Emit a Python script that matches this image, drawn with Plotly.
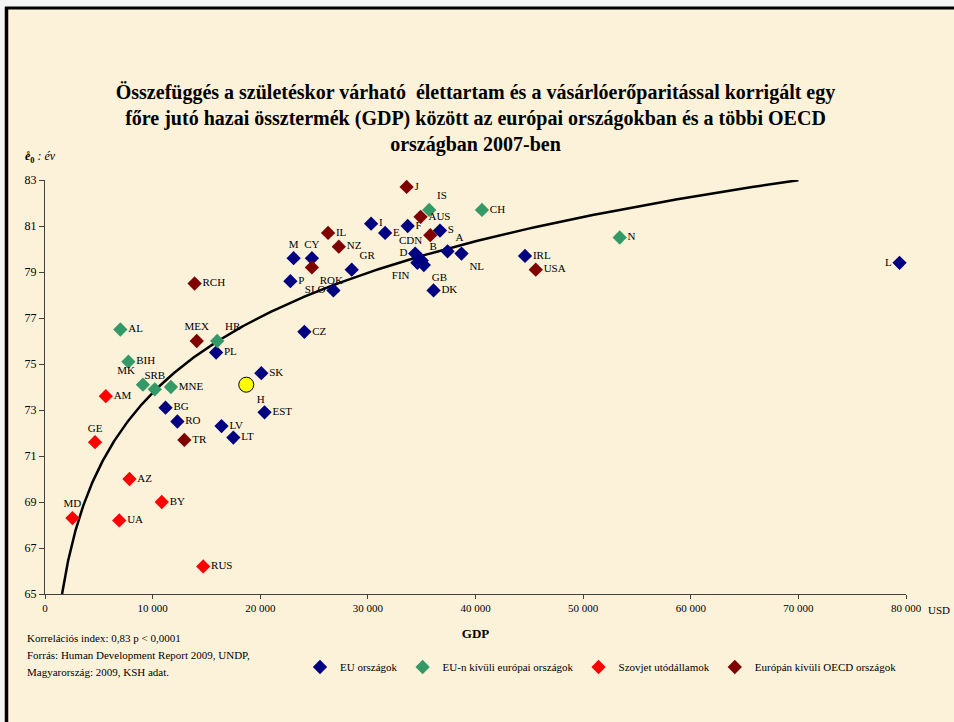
import numpy as np
import plotly.graph_objects as go

# ---------------- data ----------------
eu_names = ["L", "IRL", "NL", "A", "S", "F", "I", "E", "D", "B", "FIN", "GB", "DK",
            "GR", "CY", "M", "P", "SLO", "CZ", "PL", "SK", "EST", "BG", "RO", "LV", "LT"]
eu_gdp = [79400, 44600, 38700, 37400, 36700, 33700, 30300, 31600, 34400, 35000, 34600, 35200, 36100,
          28500, 24800, 23100, 22800, 26800, 24100, 15900, 20100, 20400, 11200, 12300, 16400, 17500]
eu_life = [79.4, 79.7, 79.8, 79.9, 80.8, 81.0, 81.1, 80.7, 79.8, 79.5, 79.4, 79.3, 78.2,
           79.1, 79.6, 79.6, 78.6, 78.2, 76.4, 75.5, 74.6, 72.9, 73.1, 72.5, 72.3, 71.8]

hu_name = ["H"]
hu_gdp = [18700]
hu_life = [74.1]

noneu_names = ["IS", "CH", "N", "AL", "HR", "BIH", "MK", "SRB", "MNE"]
noneu_gdp = [35700, 40600, 53400, 7000, 16000, 7750, 9100, 10200, 11700]
noneu_life = [81.7, 81.7, 80.5, 76.5, 76.0, 75.1, 74.1, 73.9, 74.0]

sov_names = ["AM", "GE", "AZ", "BY", "UA", "MD", "RUS"]
sov_gdp = [5650, 4650, 7850, 10850, 6900, 2550, 14700]
sov_life = [73.6, 71.6, 70.0, 69.0, 68.2, 68.3, 66.2]

oecd_names = ["J", "AUS", "CDN", "IL", "NZ", "ROK", "USA", "RCH", "MEX", "TR"]
oecd_gdp = [33600, 34900, 35800, 26300, 27300, 24800, 45600, 13900, 14100, 12950]
oecd_life = [82.7, 81.4, 80.6, 80.7, 80.1, 79.2, 79.1, 78.5, 76.0, 71.7]

# logarithmic trend line: y = a + b * ln(GDP)
trend_a = 30.0
trend_b = 4.75
trend_gdp_max = 70000

x_tickvals = [0, 10000, 20000, 30000, 40000, 50000, 60000, 70000, 80000]
x_ticktext = ["0", "10 000", "20 000", "30 000", "40 000", "50 000", "60 000", "70 000", "80 000"]
y_tickvals = [65, 67, 69, 71, 73, 75, 77, 79, 81, 83]

# ---------------- styles ----------------
label_pos = {
    "L": "middle left", "NL": "bottom right", "A": "top right", "D": "middle left",
    "B": "top right", "FIN": "bottom left", "GB": "bottom right", "GR": "top right",
    "CY": "top center", "M": "top center", "SLO": "middle left", "H": "bottom right",
    "IS": "top right", "HR": "top right", "MK": "top left", "SRB": "top center",
    "GE": "top center", "MD": "top center", "CDN": "middle left", "ROK": "bottom right",
    "MEX": "top center",
}
# labels drawn as separate annotations with a small pixel offset (xshift, yshift, xanchor)
label_shift = {"CDN": (-6, -5, "right")}

def positions(names):
    return [label_pos.get(n, "middle right") for n in names]

def trace_texts(names):
    return ["" if n in label_shift else n for n in names]

FONT = "Liberation Serif"
BG = "#FCF2DA"
LABEL_SIZE = 11

fig = go.Figure()

# trend line
ymin, ymax = 65, 83
x_start = np.exp((ymin - trend_a) / trend_b)
tx = np.geomspace(x_start, trend_gdp_max, 300)
ty = trend_a + trend_b * np.log(tx)
fig.add_trace(go.Scatter(x=tx, y=ty, mode="lines", line=dict(color="black", width=2.5),
                         showlegend=False, hoverinfo="skip"))

groups = [
    ("EU országok", eu_names, eu_gdp, eu_life, "#000080"),
    ("EU-n kívüli európai országok", noneu_names, noneu_gdp, noneu_life, "#339966"),
    ("Szovjet utódállamok", sov_names, sov_gdp, sov_life, "#FF0000"),
    ("Európán kívüli OECD országok", oecd_names, oecd_gdp, oecd_life, "#800000"),
]
for name, names, gx, gy, col in groups:
    fig.add_trace(go.Scatter(
        x=gx, y=gy, mode="markers+text", name=name, text=trace_texts(names),
        textposition=positions(names),
        textfont=dict(family=FONT, size=LABEL_SIZE, color="black"),
        marker=dict(symbol="diamond", size=11, color=col, line=dict(width=0)),
        cliponaxis=False, hovertext=names, hoverinfo="text+x+y",
    ))
    for n, xv, yv in zip(names, gx, gy):
        if n in label_shift:
            dx, dy, anc = label_shift[n]
            fig.add_annotation(x=xv, y=yv, xref="x", yref="y", text=n, showarrow=False,
                               xanchor=anc, yanchor="middle", xshift=dx, yshift=dy,
                               font=dict(family=FONT, size=LABEL_SIZE, color="black"))

fig.add_trace(go.Scatter(
    x=hu_gdp, y=hu_life, mode="markers+text", text=hu_name, textposition=positions(hu_name),
    textfont=dict(family=FONT, size=LABEL_SIZE, color="black"),
    marker=dict(symbol="circle", size=15, color="#FFFF00", line=dict(color="black", width=1)),
    showlegend=False, cliponaxis=False,
))

# plot area geometry (pixels)
L, R, T, B = 45, 906, 180, 594
W, H = 954, 722
pw, ph = R - L, B - T

def px_x(p):
    return (p - L) / pw

def px_y(p):
    return (B - p) / ph

fig.update_layout(
    width=W, height=H,
    margin=dict(l=L, r=W - R, t=T, b=H - B),
    paper_bgcolor=BG, plot_bgcolor="rgba(0,0,0,0)",
    font=dict(family=FONT, size=12, color="black"),
    title=dict(
        text="Összefüggés a születéskor várható  élettartam és a vásárlóerőparitással korrigált egy<br>"
             "főre jutó hazai össztermék (GDP) között az európai országokban és a többi OECD<br>"
             "országban 2007-ben",
        x=0.5, xanchor="center", xref="paper", y=1 - 99 / H, yanchor="middle", yref="container",
        font=dict(family=FONT, size=20, color="black", weight="bold"),
    ),
    xaxis=dict(range=[0, 80000], tickvals=x_tickvals, ticktext=x_ticktext,
               showgrid=False, zeroline=False, showline=True, linecolor="#404040", linewidth=1,
               ticks="outside", ticklen=4, tickcolor="#404040",
               tickfont=dict(family=FONT, size=11),
               title=dict(text="<b>GDP</b>", font=dict(family=FONT, size=13), standoff=15)),
    yaxis=dict(range=[65, 83], tickvals=y_tickvals,
               showgrid=False, zeroline=False, showline=True, linecolor="#404040", linewidth=1,
               ticks="outside", ticklen=5, tickcolor="#404040",
               tickfont=dict(family=FONT, size=12)),
    legend=dict(orientation="h", x=px_x(601), xanchor="center", y=px_y(667), yanchor="middle",
                font=dict(family=FONT, size=11), bgcolor="rgba(0,0,0,0)",
                itemwidth=30, tracegroupgap=0),
    showlegend=True,
)

annots = [
    dict(text="USD", x=px_x(926), y=px_y(610), xanchor="left", yanchor="middle", size=11),
    dict(text="<b><i>e̊</i></b><sub><b>0</b></sub><i> : év</i>", x=px_x(23), y=px_y(157),
         xanchor="left", yanchor="middle", size=12),
    dict(text="Korrelációs index: 0,83 p < 0,0001", x=px_x(25), y=px_y(638),
         xanchor="left", yanchor="middle", size=11),
    dict(text="Forrás: Human Development Report 2009, UNDP,", x=px_x(25), y=px_y(655),
         xanchor="left", yanchor="middle", size=11),
    dict(text="Magyarország: 2009, KSH adat.", x=px_x(25), y=px_y(672),
         xanchor="left", yanchor="middle", size=11),
]
for a in annots:
    fig.add_annotation(text=a["text"], x=a["x"], y=a["y"], xref="paper", yref="paper",
                       xanchor=a["xanchor"], yanchor=a["yanchor"], showarrow=False,
                       font=dict(family=FONT, size=a["size"], color="black"))

# frame: outside strip and thick black border (top and left)
fig.add_shape(type="rect", xref="paper", yref="paper", x0=px_x(0), x1=px_x(W), y0=px_y(0), y1=px_y(6),
              fillcolor="#F4F4F4", line=dict(width=0), layer="below")
fig.add_shape(type="rect", xref="paper", yref="paper", x0=px_x(0), x1=px_x(4), y0=px_y(0), y1=px_y(H),
              fillcolor="#F4F4F4", line=dict(width=0), layer="below")
fig.add_shape(type="line", xref="paper", yref="paper", x0=px_x(6.5), x1=px_x(6.5), y0=px_y(7), y1=px_y(H),
              line=dict(color="black", width=3.5))
fig.add_shape(type="line", xref="paper", yref="paper", x0=px_x(5), x1=px_x(W), y0=px_y(8), y1=px_y(8),
              line=dict(color="black", width=3))

fig.write_html("out.html", config={"displayModeBar": False},
               post_script="document.body.style.margin='0';document.body.style.padding='0';")
